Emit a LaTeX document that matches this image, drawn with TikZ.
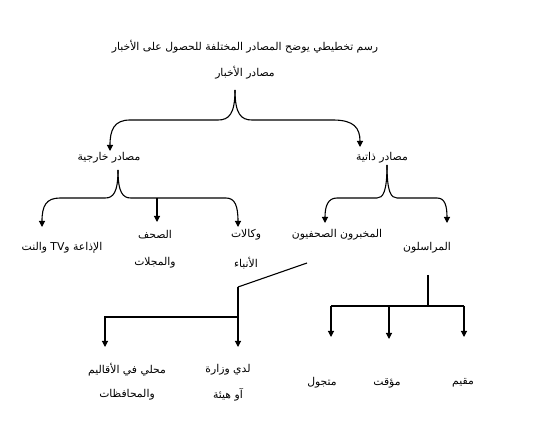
\documentclass[tikz,border=0pt]{standalone}
\usepackage{fontspec}
\usetikzlibrary{arrows.meta}
\TeXXeTstate=1
\newfontfamily\arabicfont[Script=Arabic]{DejaVu Sans}
\newcommand{\artxt}[1]{\arabicfont\beginR #1\endR}
\begin{document}
\begin{tikzpicture}[x=1pt,y=-1pt,
  lbl/.style={inner sep=0pt,font=\arabicfont\fontsize{10.8}{13}\selectfont},
  ln/.style={line width=1.1pt},
  arr/.style={ln,-{Triangle[length=6pt,width=6pt]}}]
\useasboundingbox (0,0) rectangle (550,425);
% texts
\node[lbl] (title) at (245,47) {\artxt{رسم تخطيطي يوضح المصادر المختلفة للحصول على الأخبار}};
\node[lbl] (src) at (245,73) {\artxt{مصادر الأخبار}};
\node[lbl] (ext) at (109,158) {\artxt{مصادر خارجية}};
\node[lbl] (self) at (382,158) {\artxt{مصادر ذاتية}};
\node[lbl] (radio) at (62,248) {\artxt{الإذاعة و\beginL TV\endL{} والنت}};
\node[lbl] (press1) at (155,235) {\artxt{الصحف}};
\node[lbl] (press2) at (155,263) {\artxt{والمجلات}};
\node[lbl] (agency1) at (246,235) {\artxt{وكالات}};
\node[lbl] (agency2) at (246,263) {\artxt{الأنباء}};
\node[lbl] (inform) at (337,235) {\artxt{المخبرون الصحفيون}};
\node[lbl] (corr) at (427,248) {\artxt{المراسلون}};
\node[lbl] (ministry1) at (228,370) {\artxt{لدي وزارة}};
\node[lbl] (ministry2) at (228,395) {\artxt{آو هيئة}};
\node[lbl] (local1) at (127,370) {\artxt{محلي في الأقاليم}};
\node[lbl] (local2) at (127,395) {\artxt{والمحافظات}};
\node[lbl] (mob) at (322,383) {\artxt{متجول}};
\node[lbl] (temp) at (387,383) {\artxt{مؤقت}};
\node[lbl] (res) at (463,383) {\artxt{مقيم}};
% connector points
\coordinate (b0) at (235,90);
\coordinate (extTip) at (110,151);
\coordinate (selfTip) at (360,147);
\coordinate (b1) at (118,170);
\coordinate (radioTip) at (42,227);
\coordinate (pressTip) at (157,222);
\coordinate (agencyTip) at (238,227);
\coordinate (b2) at (387,165);
\coordinate (informTip) at (325,223);
\coordinate (corrTip) at (447,223);
\coordinate (i0) at (307,263);
\coordinate (i1) at (238,287);
\coordinate (i2) at (238,317);
\coordinate (i3) at (105,317);
\coordinate (ministryTip) at (238,347);
\coordinate (localTip) at (105,347);
\coordinate (c0) at (428,275);
\coordinate (c1) at (428,306);
\coordinate (c2) at (331,306);
\coordinate (c3) at (389,306);
\coordinate (c4) at (464,306);
\coordinate (mobTip) at (331,337);
\coordinate (tempTip) at (389,339);
\coordinate (resTip) at (464,337);
% top brace
\draw[arr] (b0) .. controls (235,114) and (229,120) .. (218,120) -- (130,120)
  .. controls (114,120) and (110,130) .. (extTip);
\draw[arr] (b0) .. controls (235,114) and (241,120) .. (252,120) -- (333,120)
  .. controls (354,120) and (360,128) .. (selfTip);
% external brace
\draw[arr] (b1) .. controls (118,193) and (113,198) .. (105,198) -- (60,198)
  .. controls (46,198) and (42,206) .. (radioTip);
\draw[arr] (b1) .. controls (118,193) and (123,198) .. (131,198) -- (226,198)
  .. controls (235,198) and (238,206) .. (agencyTip);
\draw[arr] (pressTip |- 0,198) -- (pressTip);
% self brace
\draw[arr] (b2) .. controls (387,192) and (383,198) .. (377,198) -- (337,198)
  .. controls (328,198) and (325,206) .. (informTip);
\draw[arr] (b2) .. controls (387,192) and (391,198) .. (397,198) -- (437,198)
  .. controls (445,198) and (447,206) .. (corrTip);
% informants
\draw[ln] (i0) -- (i1);
\draw[arr] (i1) -- (ministryTip);
\draw[arr] (i2) -- (i3) -- (localTip);
% correspondents
\draw[ln] (c0) -- (c1);
\draw[ln] (c2) -- (c4);
\draw[arr] (c2) -- (mobTip);
\draw[arr] (c3) -- (tempTip);
\draw[arr] (c4) -- (resTip);
\end{tikzpicture}
\end{document}
